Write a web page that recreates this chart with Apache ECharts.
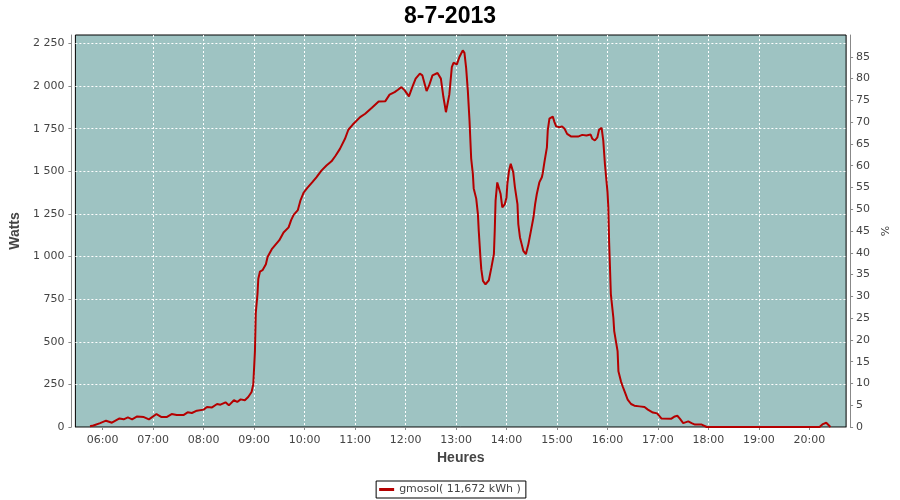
<!DOCTYPE html>
<html>
<head>
<meta charset="utf-8">
<script src="https://cdn.jsdelivr.net/npm/echarts@6/dist/echarts.min.js"></script>
<style>
html,body{margin:0;padding:0;background:#fff;}
#chart{width:900px;height:500px;}
</style>
</head>
<body>
<div id="chart"></div>
<script>
// ---- data ----
var titleText = '8-7-2013';
var seriesName = 'gmosol( 11,672 kWh )';
var hourTicks = ['06:00','07:00','08:00','09:00','10:00','11:00','12:00','13:00','14:00','15:00','16:00','17:00','18:00','19:00','20:00'];
var times = ['05:45','05:49','05:57','06:04','06:11','06:20','06:25','06:30','06:35','06:41','06:49','06:55',
'07:04','07:10','07:16','07:22','07:28','07:36','07:41','07:46','07:52','08:00','08:04','08:10','08:16','08:20',
'08:26','08:30','08:36','08:40','08:44','08:49','08:53','08:57','08:59','09:00','09:01','09:02','09:04','09:05',
'09:07','09:10','09:12','09:14','09:16','09:21','09:25','09:30','09:35','09:41','09:44','09:47','09:52','09:55',
'09:59','10:03','10:09','10:14','10:20','10:26','10:32','10:37','10:42','10:48','10:52','10:57','11:02','11:06',
'11:12','11:20','11:28','11:36','11:41','11:47','11:51','11:55','11:59','12:04','12:08','12:12','12:17','12:20',
'12:25','12:28','12:32','12:38','12:42','12:45','12:48','12:50','12:52','12:55','12:57','13:01','13:04','13:08',
'13:10','13:12','13:14','13:16','13:18','13:20','13:21','13:24','13:26','13:27','13:29','13:30','13:32','13:35',
'13:39','13:42','13:45','13:46','13:47','13:49','13:51','13:53','13:55','13:58','14:00','14:01','14:03','14:05',
'14:06','14:08','14:10','14:13','14:14','14:16','14:18','14:20','14:23','14:26','14:29','14:32','14:34','14:36',
'14:39','14:42','14:43','14:45','14:48','14:49','14:51','14:55','14:57','14:59','15:03','15:06','15:09','15:12',
'15:17','15:25','15:30','15:35','15:40','15:42','15:45','15:48','15:50','15:53','15:55','15:57','16:00','16:01',
'16:02','16:03','16:04','16:07','16:08','16:10','16:12','16:13','16:16','16:18','16:21','16:24','16:28','16:32',
'16:38','16:44','16:48','16:54','16:59','17:04','17:16','17:20','17:23','17:26','17:30','17:36','17:40','17:44',
'17:52','17:54','17:58','20:12','20:16','20:20','20:22','20:25'];
var watts = [4,9,23,37,25,50,45,56,45,62,58,45,
76,58,58,76,70,70,86,82,96,102,117,115,135,131,
145,127,157,147,162,157,176,205,249,347,445,670,779,870,
912,920,926,955,998,1043,1067,1096,1141,1171,1214,1245,1273,1328,
1376,1402,1435,1465,1504,1534,1559,1593,1632,1691,1744,1773,1798,1818,
1838,1873,1910,1912,1950,1965,1979,1994,1975,1940,1994,2044,2073,2063,
1971,2004,2063,2077,2044,1936,1847,1838,1950,2112,2137,2128,2171,2210,
2195,2107,1975,1800,1575,1485,1400,1340,1249,1151,994,926,857,837,
861,935,1014,1151,1328,1435,1441,1367,1288,1308,1347,1426,1504,1544,
1553,1494,1406,1308,1191,1112,1073,1033,1014,1073,1151,1229,1308,1367,
1435,1465,1488,1553,1641,1740,1809,1822,1789,1764,1759,1764,1750,1720,
1704,1704,1714,1710,1716,1691,1681,1700,1744,1755,1680,1540,1380,1288,
1080,930,780,641,563,504,445,327,268,239,200,161,135,125,
121,117,102,85,80,50,49,62,66,49,23,33,23,14,
14,4,0,0,17,25,17,0];

// ---- helpers ----
function toMin(s){ var p = s.split(':'); return (+p[0])*60 + (+p[1]); }
function fmtMin(v){ var h = Math.floor(v/60), m = Math.round(v - h*60); return (h<10?'0':'')+h+':'+(m<10?'0':'')+m; }
function fmtW(v){
  if (v > 2250) return '';
  if (v >= 1000){ var r = v % 1000; return Math.floor(v/1000) + ' ' + (r<10?'00':(r<100?'0':'')) + r; }
  return String(v);
}
var seriesData = times.map(function(t,i){ return [toMin(t), watts[i]]; });
var tickValues = hourTicks.map(toMin);

var FONT = 'DejaVu Sans';
var chart = echarts.init(document.getElementById('chart'), null, {renderer:'canvas'});
chart.setOption({
  animation: false,
  backgroundColor: '#ffffff',
  title: {
    text: titleText, left: 'center', top: 0,
    textStyle: {fontFamily: 'Liberation Sans', fontWeight: 'bold', fontSize: 23, color: '#000'}
  },
  legend: {
    data: [{name: seriesName, icon: 'rect'}],
    left: 'center', bottom: 2,
    itemWidth: 15, itemHeight: 3, itemGap: 5,
    padding: [3, 5, 3, 3],
    borderColor: '#000', borderWidth: 1,
    textStyle: {fontFamily: FONT, fontSize: 11, color: '#444'}
  },
  grid: {
    left: 75, right: 53, top: 35, bottom: 73,
    show: true, backgroundColor: '#9ec3c2', borderColor: '#000', borderWidth: 1,
    containLabel: false
  },
  xAxis: {
    type: 'value', min: 327.6, max: 1243.6,
    name: 'Heures', nameLocation: 'middle', nameGap: 20,
    nameTextStyle: {fontFamily: 'Liberation Sans', fontWeight: 'bold', fontSize: 14, color: '#444'},
    offset: 4,
    axisLine: {show: true, lineStyle: {color: '#888', width: 1}},
    axisTick: {show: true, length: 3, lineStyle: {color: '#888'}, customValues: tickValues},
    axisLabel: {customValues: tickValues, formatter: fmtMin, margin: 4,
      fontFamily: FONT, fontSize: 11, color: '#444'},
    splitLine: {show: true, showMinLine: false, showMaxLine: false,
      lineStyle: {color: '#ffffff', type: [2, 2], width: 1}}
  },
  yAxis: [{
    type: 'value', min: 0, max: 2300, interval: 250, position: 'left',
    name: 'Watts', nameLocation: 'middle', nameGap: 41,
    nameTextStyle: {fontFamily: 'Liberation Sans', fontWeight: 'bold', fontSize: 14, color: '#444'},
    offset: 4,
    axisLine: {show: true, lineStyle: {color: '#888', width: 1}},
    axisTick: {show: true, length: 3, lineStyle: {color: '#888'}},
    axisLabel: {formatter: fmtW, margin: 7, showMaxLabel: false,
      fontFamily: FONT, fontSize: 11, color: '#444'},
    splitLine: {show: true, showMinLine: false, showMaxLine: false,
      lineStyle: {color: '#ffffff', type: [2, 2], width: 1}}
  }, {
    type: 'value', min: 0, max: 90, interval: 5, position: 'right',
    name: '%', nameLocation: 'middle', nameGap: 25,
    nameTextStyle: {fontFamily: FONT, fontSize: 11, color: '#444'},
    offset: 4,
    axisLine: {show: true, lineStyle: {color: '#888', width: 1}},
    axisTick: {show: true, length: 3, lineStyle: {color: '#888'}},
    axisLabel: {formatter: function(v){ return v > 85 ? '' : String(v); }, margin: 6, showMaxLabel: false,
      fontFamily: FONT, fontSize: 11, color: '#444'},
    splitLine: {show: false}
  }],
  series: [{
    name: seriesName, type: 'line', yAxisIndex: 0,
    data: seriesData, showSymbol: false, symbol: 'none',
    lineStyle: {color: '#b40000', width: 2},
    itemStyle: {color: '#b40000'},
    z: 5
  }]
});
</script>
</body>
</html>
